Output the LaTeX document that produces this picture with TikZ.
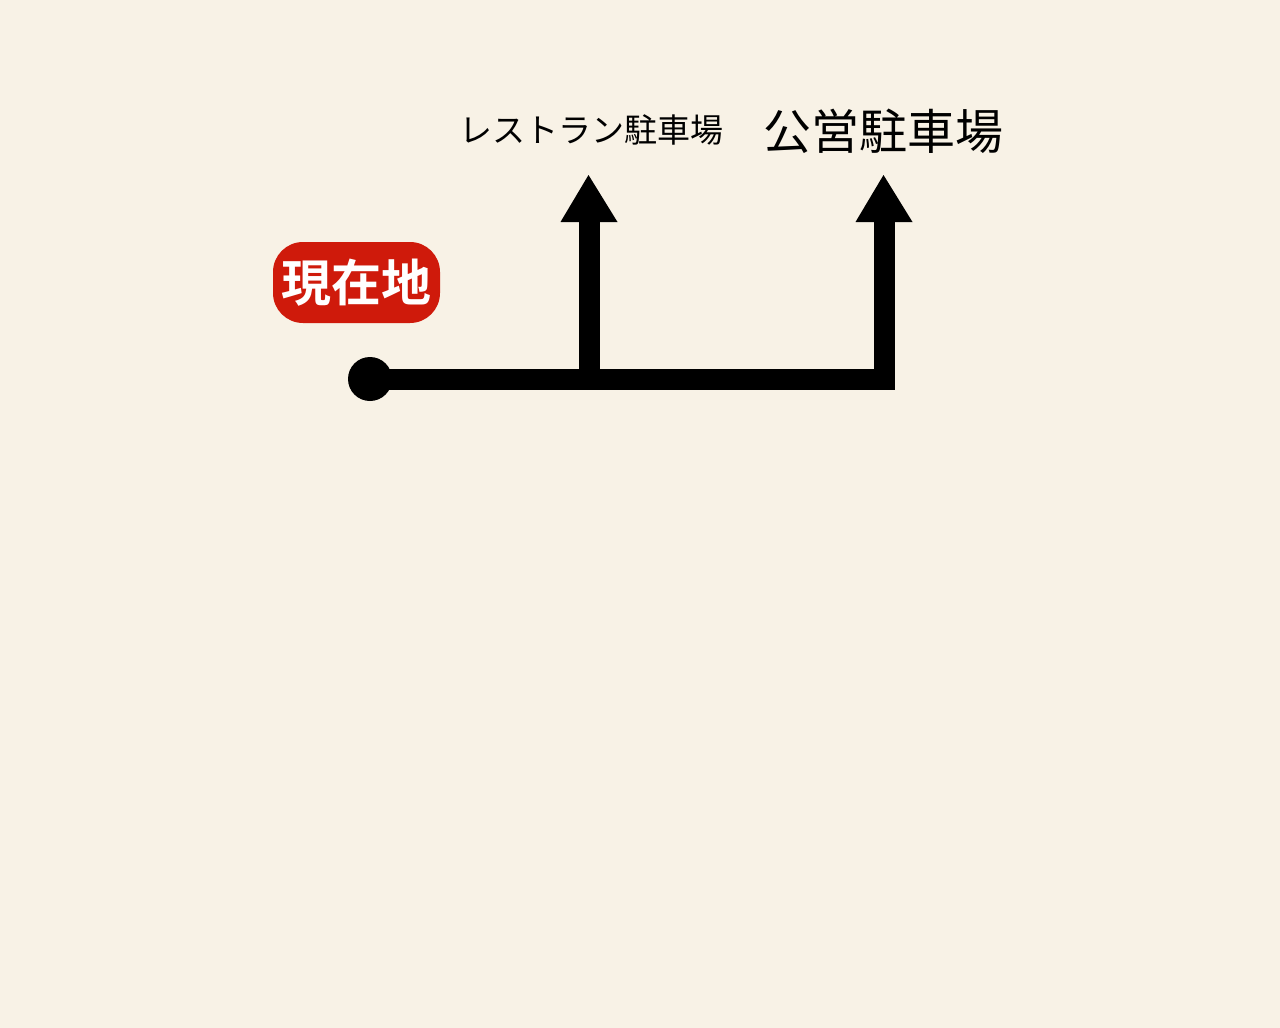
\documentclass[tikz,border=0pt]{standalone}
\usepackage{fontspec}
\newfontfamily\jpfont{Noto Sans CJK JP}
\newfontfamily\jpbold{Noto Sans CJK JP Bold}
\definecolor{bgcol}{HTML}{F8F2E6}
\definecolor{badgered}{HTML}{CF1A0B}
\begin{document}
\begin{tikzpicture}[x=1pt,y=-1pt,
  route/.style={line width=21pt,line join=miter,line cap=butt},
  tip/.style={fill=black},
  label/.style={font=\jpfont,inner sep=0pt,anchor=center}]
\fill[bgcol] (0,0) rectangle (1280,1028);
\useasboundingbox (0,0) rectangle (1280,1028);
% badge
\node[fill=badgered,rounded corners=30pt,minimum width=167pt,minimum height=81pt,inner sep=0pt,text=white,font=\jpbold\fontsize{50}{50}\selectfont] (badge) at (356.5,282.5) {\raisebox{-6pt}{現在地}};
% start dot
\node[circle,fill=black,minimum size=44pt,inner sep=0pt] (start) at (370,379) {};
% joints
\coordinate (j1) at (589.5,379);
\coordinate (j2) at (884.5,379);
\coordinate (a1) at (589.5,222);
\coordinate (a2) at (884.5,222);
\coordinate (t1) at (588.5,175);
\coordinate (t2) at (883.5,175);
\draw[route] (start.center) -- (j2) -- (a2);
\draw[route] (j1) -- (a1);
\fill[tip] ([xshift=-29pt]a1) -- (t1) -- ([xshift=28pt]a1) -- cycle;
\fill[tip] ([xshift=-29pt]a2) -- (t2) -- ([xshift=28pt]a2) -- cycle;
% labels
\node[label,font=\jpfont\fontsize{33}{33}\selectfont] (rest) at (591,130) {レストラン駐車場};
\node[label,font=\jpfont\fontsize{48}{48}\selectfont] (pub) at (883.5,131) {公営駐車場};
\end{tikzpicture}
\end{document}
